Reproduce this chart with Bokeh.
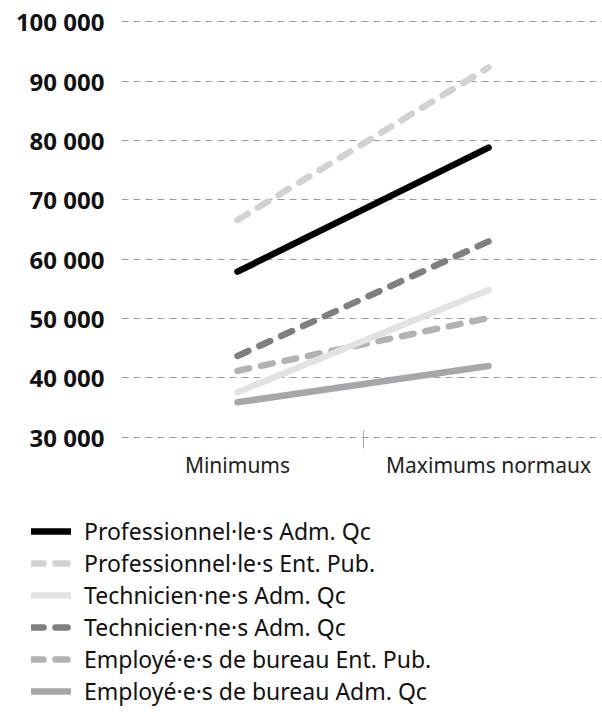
from bokeh.plotting import figure
from bokeh.layouts import column
from bokeh.models import FixedTicker, Range1d, Legend, LegendItem
from bokeh.embed import file_html
from bokeh.resources import INLINE

# ---- data ----
categories = ["Minimums", "Maximums normaux"]
y_ticks = [30000, 40000, 50000, 60000, 70000, 80000, 90000, 100000]
y_tick_labels = ["30 000", "40 000", "50 000", "60 000", "70 000", "80 000", "90 000", "100 000"]

series_names = [
    "Professionnel·le·s Adm. Qc",
    "Professionnel·le·s Ent. Pub.",
    "Technicien·ne·s Adm. Qc",
    "Technicien·ne·s Adm. Qc",
    "Employé·e·s de bureau Ent. Pub.",
    "Employé·e·s de bureau Adm. Qc",
]
pro_adm_qc = [57900, 78800]
pro_ent_pub = [66600, 92300]
tech_adm_qc = [37600, 54800]
tech_adm_qc_2 = [43700, 63000]
emp_ent_pub = [41200, 50100]
emp_adm_qc = [35900, 42000]

# ---- styles ----
series_values = [pro_adm_qc, pro_ent_pub, tech_adm_qc, tech_adm_qc_2, emp_ent_pub, emp_adm_qc]
colors = ["#000000", "#d2d2d2", "#e2e2e3", "#7f7f80", "#b2b2b4", "#a7a7a9"]
dashes = ["solid", "12 12", "solid", "12 12", "12 12", "solid"]

FONT = "Noto Sans"
x_pos = list(range(len(categories)))

H1 = 500
p = figure(
    width=602, height=H1,
    output_backend="svg", toolbar_location=None,
    x_range=Range1d(-0.462, 1.454), y_range=Range1d(29800, 100200),
    min_border_left=121, min_border_right=0, min_border_top=20, min_border_bottom=H1 - 438,
    outline_line_color=None,
)
p.frame_align = False

# y axis / grid
p.yaxis.ticker = FixedTicker(ticks=y_ticks)
p.yaxis.major_label_overrides = {t: l for t, l in zip(y_ticks, y_tick_labels)}
p.yaxis.axis_line_color = None
p.yaxis.major_tick_line_color = None
p.yaxis.minor_tick_line_color = None
p.yaxis.major_label_text_font = FONT
p.yaxis.major_label_text_font_style = "bold"
p.yaxis.major_label_text_font_size = "24px"
p.yaxis.major_label_text_color = "#111111"
p.yaxis.major_label_standoff = 11
p.ygrid.ticker = FixedTicker(ticks=y_ticks)
p.ygrid.grid_line_color = "#9a9a9a"
p.ygrid.grid_line_dash = "7 5"
p.ygrid.grid_line_width = 1
p.xgrid.grid_line_color = None

# x axis
p.xaxis.ticker = FixedTicker(ticks=x_pos, minor_ticks=[0.5])
p.xaxis.major_label_overrides = {i: c for i, c in zip(x_pos, categories)}
p.xaxis.axis_line_color = None
p.xaxis.major_tick_line_color = None
p.xaxis.minor_tick_line_color = "#aaaaaa"
p.xaxis.minor_tick_in = 8
p.xaxis.minor_tick_out = 10
p.xaxis.major_label_text_font = FONT
p.xaxis.major_label_text_font_size = "21px"
p.xaxis.major_label_text_color = "#222222"
p.xaxis.major_label_standoff = 2

def draw(fig):
    rs = [None] * len(series_names)
    for i in reversed(range(len(series_names))):
        rs[i] = fig.line(
            x_pos, series_values[i],
            line_color=colors[i], line_width=6.5, line_dash=dashes[i],
            line_cap="round", line_join="round",
        )
    return rs

draw(p)

# legend panel below the chart
H2 = 727 - H1
pl = figure(
    width=602, height=H2,
    output_backend="svg", toolbar_location=None,
    x_range=Range1d(10, 11), y_range=Range1d(0, 1),
    x_axis_type=None, y_axis_type=None,
    min_border_left=0, min_border_right=0, min_border_top=0, min_border_bottom=0,
    outline_line_color=None,
)
pl.frame_align = False
pl.xgrid.grid_line_color = None
pl.ygrid.grid_line_color = None
leg_renderers = draw(pl)

legend = Legend(
    items=[LegendItem(label=n, renderers=[r]) for n, r in zip(series_names, leg_renderers)],
    location=(31, 20),
    label_text_font=FONT, label_text_font_size="23px", label_text_color="#111111",
    glyph_width=40, glyph_height=20, label_height=20, label_standoff=13,
    spacing=0, padding=0, margin=0,
    border_line_color=None, background_fill_alpha=0,
)
pl.add_layout(legend)

layout = column(p, pl, spacing=0)
open("out.html", "w").write(file_html(layout, INLINE))
